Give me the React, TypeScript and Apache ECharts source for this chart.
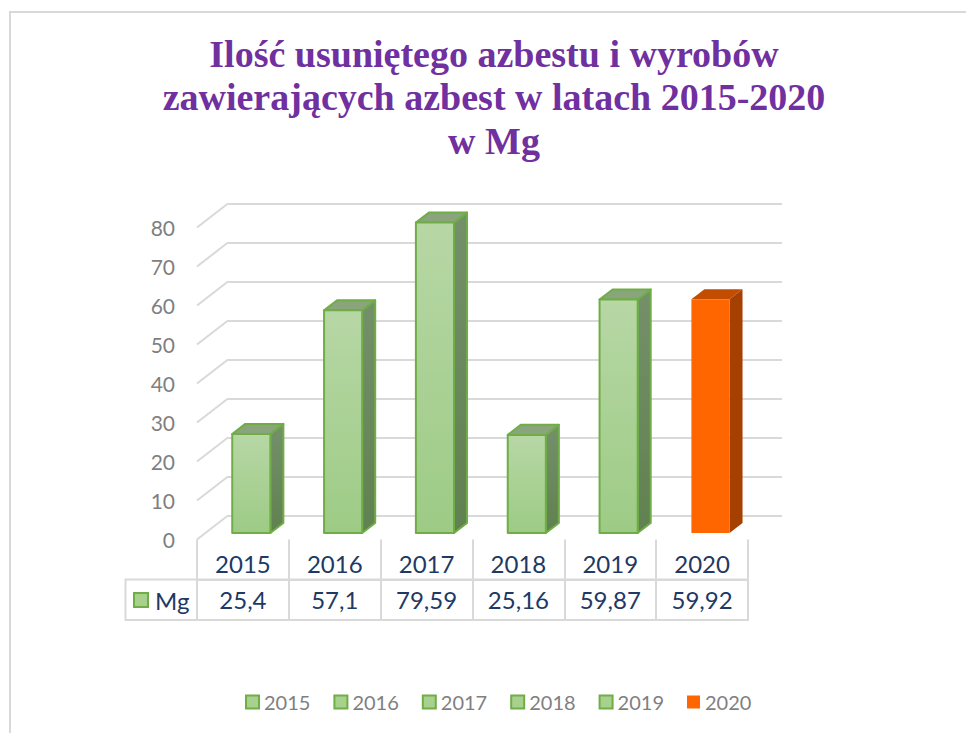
import React, { useEffect, useRef } from 'react';
import * as echarts from 'echarts';

// ---- data ----
const categories = ['2015', '2016', '2017', '2018', '2019', '2020'];
const values = [25.4, 57.1, 79.59, 25.16, 59.87, 59.92];
const yTicks = [0, 10, 20, 30, 40, 50, 60, 70, 80];
const titleLines = ['Ilość usuniętego azbestu i wyrobów', 'zawierających azbest w latach 2015-2020', 'w Mg'];
const seriesName = 'Mg';
const highlighted = '2020';

// ---- styles ----
const GRID_COLOR = '#D9D9D9';
const NAVY = '#203864';
const GRAY = '#7F7F7F';
const DX = 31;
const DY = 24;
const F1 = 0.27;
const F2 = 0.69;

const greenStyle = {
  front: new echarts.graphic.LinearGradient(0, 0, 0, 1, [
    { offset: 0, color: '#B7D7A5' },
    { offset: 1, color: '#9DCB85' },
  ]),
  side: new echarts.graphic.LinearGradient(0, 0, 0, 1, [
    { offset: 0, color: '#74906A' },
    { offset: 1, color: '#608150' },
  ]),
  top: '#8AA57C',
  stroke: '#70AD47',
  lineWidth: 2,
  legend: { color: '#A9D18E', borderColor: '#70AD47', borderWidth: 2 },
};
const orangeStyle = {
  front: '#FF6600',
  side: '#A54000',
  top: '#C24D00',
  stroke: 'none',
  lineWidth: 0,
  legend: { color: '#FF6600', borderColor: '#FF6600', borderWidth: 0 },
};
const styleFor = (c: string) => (c === highlighted ? orangeStyle : greenStyle);

const fmt = (v: number) => String(v).replace('.', ',');

function barRender(st: any) {
  return (params: any, api: any) => {
    const cat = api.value(0);
    const v = api.value(1);
    const p = api.coord([cat, v]);
    const b = api.coord([cat, 0]);
    const band = api.size([1, 0])[0];
    const w = band * 0.415;
    const fx = DX * F1;
    const fy = DY * F1;
    const ddx = DX * (F2 - F1);
    const ddy = DY * (F2 - F1);
    const x0 = p[0] + fx - w / 2;
    const x1 = x0 + w;
    const yt = p[1] - fy;
    const yb = b[1] - fy;
    const common = { stroke: st.stroke, lineWidth: st.lineWidth, lineJoin: 'round' };
    return {
      type: 'group',
      children: [
        {
          type: 'polygon',
          shape: { points: [[x1, yt], [x1 + ddx, yt - ddy], [x1 + ddx, yb - ddy], [x1, yb]] },
          style: { fill: st.side, ...common },
        },
        {
          type: 'polygon',
          shape: { points: [[x0, yt], [x0 + ddx, yt - ddy], [x1 + ddx, yt - ddy], [x1, yt]] },
          style: { fill: st.top, ...common },
        },
        {
          type: 'rect',
          shape: { x: x0, y: yt, width: w, height: yb - yt },
          style: { fill: st.front, ...common },
        },
      ],
    };
  };
}

export default function App() {
  const ref = useRef<HTMLDivElement>(null);
  useEffect(() => {
    if (!ref.current) return;
    const chart = echarts.init(ref.current, undefined, { renderer: 'svg' });
    const tableFont = { fontFamily: 'Lato', fontSize: 24, color: NAVY };

    const barSeries = categories.map((c, i) => ({
      type: 'custom',
      name: c,
      xAxisIndex: 1,
      yAxisIndex: 1,
      z: 3,
      clip: false,
      itemStyle: styleFor(c).legend,
      data: [[i, values[i]]],
      renderItem: barRender(styleFor(c)),
    }));

    const option: any = {
      animation: false,
      backgroundColor: '#FFFFFF',
      title: {
        text: titleLines.join('\n'),
        left: 494,
        top: 32,
        textAlign: 'center',
        padding: 0,
        textStyle: {
          fontFamily: 'Liberation Serif',
          fontWeight: 'bold',
          fontSize: 38,
          lineHeight: 43.5,
          color: '#7030A0',
        },
      },
      legend: {
        left: 245,
        top: 692,
        padding: 0,
        itemGap: 23,
        itemWidth: 13,
        itemHeight: 13,
        icon: 'rect',
        selectedMode: false,
        textStyle: { fontFamily: 'Lato', fontSize: 20, color: GRAY },
        data: categories.map((c) => ({ name: c, itemStyle: styleFor(c).legend })),
      },
      grid: [
        { left: 228, top: 203.5, width: 554, height: 312 },
        { left: 197, top: 227.5, width: 551, height: 312 },
      ],
      xAxis: [
        { type: 'category', gridIndex: 0, data: categories, show: false },
        {
          type: 'category',
          gridIndex: 1,
          data: categories,
          axisLine: { show: false },
          axisTick: { show: true, length: 40, lineStyle: { color: GRID_COLOR, width: 2 } },
          axisLabel: { margin: 12, ...tableFont },
        },
        {
          type: 'category',
          gridIndex: 1,
          position: 'bottom',
          offset: 40,
          data: categories,
          axisLine: { show: true, lineStyle: { color: GRID_COLOR, width: 2 } },
          axisTick: { show: true, length: 40, lineStyle: { color: GRID_COLOR, width: 2 } },
          axisLabel: {
            margin: 8,
            ...tableFont,
            formatter: (_v: string, idx: number) => fmt(values[idx]),
          },
        },
      ],
      yAxis: [
        {
          type: 'value',
          gridIndex: 0,
          min: 0,
          max: 80,
          interval: 10,
          axisLabel: { show: false },
          axisLine: { show: false },
          axisTick: { show: false },
          splitLine: { show: true, lineStyle: { color: GRID_COLOR, width: 2 } },
        },
        {
          type: 'value',
          gridIndex: 1,
          min: 0,
          max: 80,
          interval: 10,
          axisLabel: { margin: 22, fontFamily: 'Lato', fontSize: 21, color: GRAY },
          axisLine: { show: false },
          axisTick: { show: false },
          splitLine: { show: false },
        },
      ],
      graphic: [
        {
          type: 'rect',
          silent: true,
          shape: { x: 10, y: 12, width: 2000, height: 2000 },
          style: { fill: 'none', stroke: GRID_COLOR, lineWidth: 2 },
          z: -10,
        },
        {
          type: 'rect',
          silent: true,
          shape: { x: 125.5, y: 579.5, width: 622.5, height: 40.5 },
          style: { fill: 'none', stroke: GRID_COLOR, lineWidth: 2 },
        },
        {
          type: 'rect',
          silent: true,
          shape: { x: 134, y: 593, width: 14, height: 14 },
          style: { fill: '#A9D18E', stroke: '#70AD47', lineWidth: 2 },
        },
        {
          type: 'text',
          silent: true,
          x: 155,
          y: 600,
          style: {
            text: seriesName,
            fontFamily: 'Lato',
            fontSize: 24,
            fill: NAVY,
            verticalAlign: 'middle',
          },
        },
      ],
      series: [
        {
          type: 'custom',
          name: 'wall',
          xAxisIndex: 1,
          yAxisIndex: 1,
          silent: true,
          z: 1,
          clip: false,
          data: yTicks.map((v) => [0, v]),
          renderItem: (params: any, api: any) => {
            const y = api.coord([0, api.value(1)])[1];
            const x = params.coordSys.x;
            return {
              type: 'line',
              shape: { x1: x, y1: y, x2: x + DX, y2: y - DY },
              style: { stroke: GRID_COLOR, lineWidth: 2 },
            };
          },
        },
        ...barSeries,
      ],
    };
    chart.setOption(option);
    return () => chart.dispose();
  }, []);
  return (
    <div
      ref={ref}
      style={{ position: 'absolute', left: 0, top: 0, width: 966, height: 733, background: '#fff' }}
    />
  );
}
